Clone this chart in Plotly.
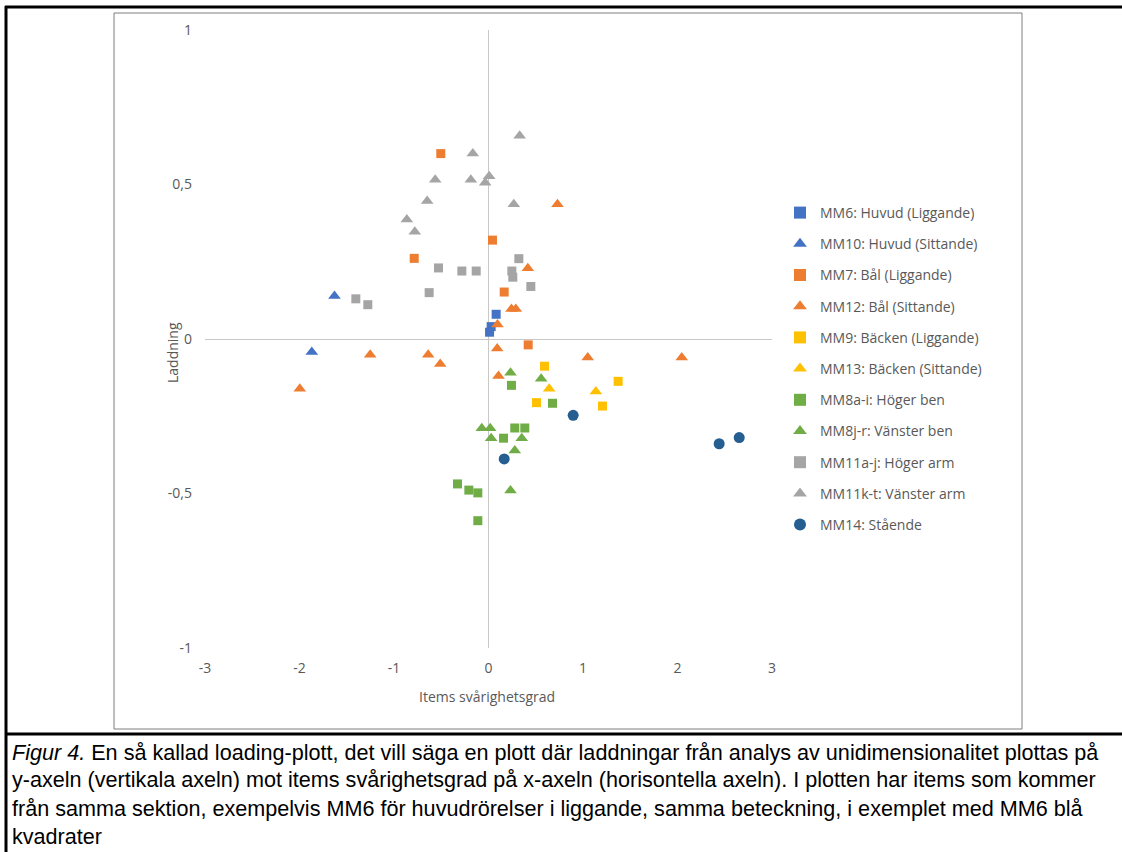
import plotly.graph_objects as go

# ---------------- data ----------------
series_names = [
    "MM6: Huvud (Liggande)", "MM10: Huvud (Sittande)", "MM7: Bål (Liggande)",
    "MM12: Bål (Sittande)", "MM9: Bäcken (Liggande)", "MM13: Bäcken (Sittande)",
    "MM8a-i: Höger ben", "MM8j-r: Vänster ben", "MM11a-j: Höger arm",
    "MM11k-t: Vänster arm", "MM14: Stående",
]

mm6_x = [0.081, 0.028, 0.011]
mm6_y = [0.080, 0.040, 0.022]

mm10_x = [-1.63, -1.87]
mm10_y = [0.139, -0.042]

mm7_x = [-0.505, 0.042, -0.786, 0.166, 0.42]
mm7_y = [0.600, 0.320, 0.261, 0.152, -0.019]

mm12_x = [0.73, 0.416, 0.243, 0.289, 0.095, 0.092, 1.05, 2.045, 0.106, -1.252, -0.638, -0.511, -1.997]
mm12_y = [0.436, 0.229, 0.097, 0.097, 0.047, -0.031, -0.06, -0.06, -0.12, -0.051, -0.051, -0.081, -0.161]

mm9_x = [0.593, 1.372, 0.508, 1.206]
mm9_y = [-0.088, -0.137, -0.206, -0.217]

mm13_x = [0.642, 1.136]
mm13_y = [-0.161, -0.170]

mm8ai_x = [0.243, 0.677, 0.278, 0.384, 0.159, -0.328, -0.208, -0.113, -0.113]
mm8ai_y = [-0.150, -0.208, -0.288, -0.288, -0.321, -0.469, -0.489, -0.498, -0.588]

mm8jr_x = [0.233, 0.557, -0.071, 0.018, 0.028, 0.352, 0.278, 0.233]
mm8jr_y = [-0.109, -0.129, -0.289, -0.289, -0.321, -0.321, -0.361, -0.490]

mm11aj_x = [0.321, -0.529, -0.282, -0.13, 0.247, 0.257, 0.448, -0.628, -1.404, -1.277]
mm11aj_y = [0.260, 0.230, 0.220, 0.220, 0.220, 0.200, 0.170, 0.150, 0.130, 0.111]

mm11kt_x = [0.33, -0.166, -0.564, -0.187, 0.007, -0.035, -0.649, 0.268, -0.864, -0.78]
mm11kt_y = [0.658, 0.600, 0.515, 0.515, 0.527, 0.506, 0.447, 0.436, 0.387, 0.347]

mm14_x = [0.896, 2.441, 2.653, 0.166]
mm14_y = [-0.247, -0.339, -0.319, -0.388]

x_ticks = [-3, -2, -1, 0, 1, 2, 3]
x_ticktext = ["-3", "-2", "-1", "0", "1", "2", "3"]
y_ticks = [-1, -0.5, 0, 0.5, 1]
y_ticktext = ["-1", "-0,5", "0", "0,5", "1"]

x_title = "Items svårighetsgrad"
y_title = "Laddning"
caption_lines = [
    "<i>Figur 4.</i> En så kallad loading-plott, det vill säga en plott där laddningar från analys av unidimensionalitet plottas på",
    "y-axeln (vertikala axeln) mot items svårighetsgrad på x-axeln (horisontella axeln). I plotten har items som kommer",
    "från samma sektion, exempelvis MM6 för huvudrörelser i liggande, samma beteckning, i exemplet med MM6 blå",
    "kvadrater",
]

# ---------------- styling ----------------
xs = [mm6_x, mm10_x, mm7_x, mm12_x, mm9_x, mm13_x, mm8ai_x, mm8jr_x, mm11aj_x, mm11kt_x, mm14_x]
ys = [mm6_y, mm10_y, mm7_y, mm12_y, mm9_y, mm13_y, mm8ai_y, mm8jr_y, mm11aj_y, mm11kt_y, mm14_y]
colors = ["#4472C4", "#4472C4", "#ED7D31", "#ED7D31", "#FFC000", "#FFC000",
          "#70AD47", "#70AD47", "#A5A5A5", "#A5A5A5", "#255E91"]
symbols = ["square", "triangle-up", "square", "triangle-up", "square", "triangle-up",
           "square", "triangle-up", "square", "triangle-up", "circle"]
sizes = {"square": 9, "triangle-up": 11, "circle": 11}

W, H = 1122, 852
L, R, T, B = 205, 350, 30, 204
PW, PH = W - L - R, H - T - B


def px(xpix):
    return (xpix - L) / PW


def py(ypix):
    return (H - B - ypix) / PH


FONT = "Open Sans, DejaVu Sans, sans-serif"
TXT = "#595959"

fig = go.Figure()
for i, name in enumerate(series_names):
    fig.add_trace(go.Scatter(
        x=xs[i], y=ys[i], mode="markers", name=name, legendgroup=name,
        marker=dict(symbol=symbols[i], size=sizes[symbols[i]], color=colors[i],
                    line=dict(width=0)),
    ))

shapes = [
    # chart box
    dict(type="rect", xref="paper", yref="paper", x0=px(114), x1=px(1022), y0=py(13), y1=py(729),
         line=dict(color="#7F7F7F", width=1), fillcolor="rgba(0,0,0,0)", layer="below"),
    # page frame lines
    dict(type="line", xref="paper", yref="paper", x0=px(5), x1=px(1122), y0=py(7), y1=py(7),
         line=dict(color="black", width=3)),
    dict(type="line", xref="paper", yref="paper", x0=px(6), x1=px(6), y0=py(6), y1=py(852),
         line=dict(color="black", width=3)),
    dict(type="line", xref="paper", yref="paper", x0=px(5), x1=px(1122), y0=py(734), y1=py(734),
         line=dict(color="black", width=3)),
]

annotations = [
    dict(text=x_title, xref="paper", yref="paper", x=px(487), y=py(697), showarrow=False,
         font=dict(family=FONT, size=14, color=TXT), xanchor="center", yanchor="middle"),
    dict(text=y_title, xref="paper", yref="paper", x=px(172), y=py(353), showarrow=False,
         textangle=-90, font=dict(family=FONT, size=14, color=TXT), xanchor="center", yanchor="middle"),
]
for k, line in enumerate(caption_lines):
    annotations.append(dict(
        text=line, xref="paper", yref="paper", x=px(10), y=py(752 + 28 * k), showarrow=False,
        xanchor="left", yanchor="middle", align="left",
        font=dict(family="Liberation Sans, Arial, sans-serif", size=21.6, color="black"),
    ))

fig.update_layout(
    width=W, height=H,
    margin=dict(l=L, r=R, t=T, b=B, pad=0),
    paper_bgcolor="white", plot_bgcolor="white",
    showlegend=True,
    legend=dict(x=px(780), y=py(197), xanchor="left", yanchor="top",
                font=dict(family=FONT, size=14, color=TXT),
                tracegroupgap=10, bgcolor="rgba(0,0,0,0)", itemsizing="constant"),
    xaxis=dict(range=[-3, 3], tickvals=x_ticks, ticktext=x_ticktext, showgrid=False,
               zeroline=True, zerolinecolor="#C8C8C8", zerolinewidth=1, showline=False,
               ticks="", ticklabelstandoff=10, tickfont=dict(family=FONT, size=14, color=TXT)),
    yaxis=dict(range=[-1, 1], tickvals=y_ticks, ticktext=y_ticktext, showgrid=False,
               zeroline=True, zerolinecolor="#C8C8C8", zerolinewidth=1, showline=False,
               ticks="", ticklabelstandoff=12, tickfont=dict(family=FONT, size=14, color=TXT)),
    shapes=shapes,
    annotations=annotations,
)

fig.write_html("out.html", config={"displayModeBar": False},
               post_script="document.body.style.margin='0px';")
